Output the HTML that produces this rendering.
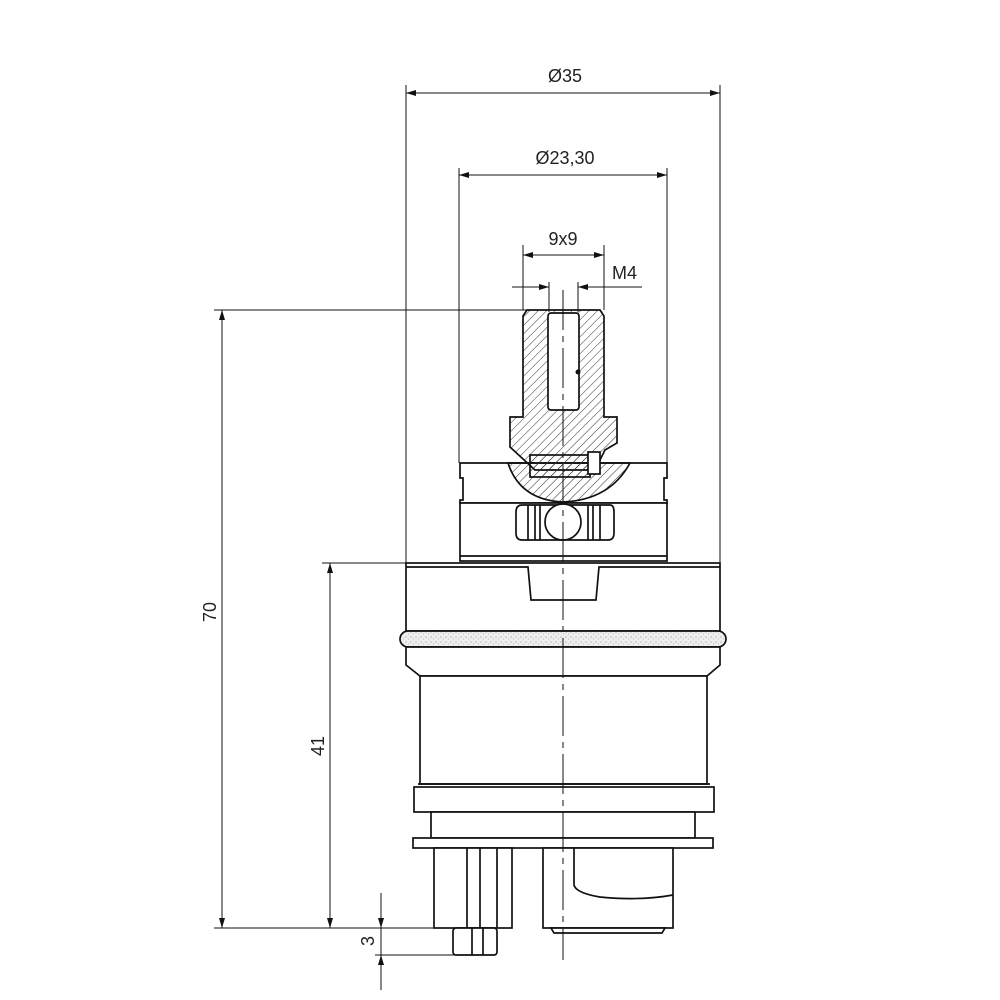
<!DOCTYPE html><html><head><style>body{margin:0;background:#fff}svg{display:block}text{font-family:"Liberation Sans",sans-serif;font-size:18px;fill:#222}</style></head><body>
<svg width="1000" height="1000" viewBox="0 0 1000 1000" xmlns="http://www.w3.org/2000/svg">
<defs>
<marker id="a" viewBox="0 0 10 6" refX="10" refY="3" markerWidth="16" markerHeight="6" markerUnits="userSpaceOnUse" orient="auto-start-reverse"><path d="M0,0L10,3L0,6z" fill="#111"/></marker>
<pattern id="h" width="6" height="6" patternUnits="userSpaceOnUse" patternTransform="rotate(45)"><line x1="0" y1="0" x2="0" y2="6" stroke="#333" stroke-width="1"/></pattern>
<pattern id="d" width="5" height="5" patternUnits="userSpaceOnUse"><rect width="5" height="5" fill="#eee"/><circle cx="1" cy="2" r="0.6" fill="#999"/><circle cx="3.5" cy="4" r="0.5" fill="#aaa"/></pattern>
</defs>
<g stroke="#111" stroke-width="1" fill="none">
<line x1="406" y1="85" x2="406" y2="563"/><line x1="720" y1="85" x2="720" y2="563"/>
<line x1="459" y1="168" x2="459" y2="463"/><line x1="667" y1="168" x2="667" y2="463"/>
<line x1="523" y1="245" x2="523" y2="310"/><line x1="604" y1="245" x2="604" y2="310"/>
<line x1="549" y1="282" x2="549" y2="312"/><line x1="578" y1="282" x2="578" y2="312"/>
<line x1="214" y1="310" x2="530" y2="310"/>
<line x1="214" y1="928" x2="434" y2="928"/>
<line x1="322" y1="563" x2="406" y2="563"/>
<line x1="375" y1="955" x2="455" y2="955"/>
<line x1="406" y1="93" x2="720" y2="93" marker-start="url(#a)" marker-end="url(#a)"/>
<line x1="459" y1="175" x2="667" y2="175" marker-start="url(#a)" marker-end="url(#a)"/>
<line x1="523" y1="255" x2="604" y2="255" marker-start="url(#a)" marker-end="url(#a)"/>
<line x1="512" y1="287" x2="549" y2="287" marker-end="url(#a)"/>
<line x1="642" y1="287" x2="578" y2="287" marker-end="url(#a)"/>
<line x1="222" y1="310" x2="222" y2="928" marker-start="url(#a)" marker-end="url(#a)"/>
<line x1="330" y1="563" x2="330" y2="928" marker-start="url(#a)" marker-end="url(#a)"/>
<line x1="381" y1="893" x2="381" y2="928" marker-end="url(#a)"/>
<line x1="381" y1="990" x2="381" y2="955" marker-end="url(#a)"/>
<line x1="381" y1="928" x2="381" y2="955"/>
</g>
<text x="565" y="82" text-anchor="middle">Ø35</text>
<text x="565" y="164" text-anchor="middle">Ø23,30</text>
<text x="563" y="245" text-anchor="middle">9x9</text>
<text x="612" y="279">M4</text>
<text transform="translate(216,612) rotate(-90)" text-anchor="middle">70</text>
<text transform="translate(324,746) rotate(-90)" text-anchor="middle">41</text>
<text transform="translate(374,941) rotate(-90)" text-anchor="middle">3</text>
<g stroke="#111" stroke-width="1.7" fill="#fff">
<path d="M460,463 L667,463 L667,478 L664,478 L664,500 L667,500 L667,503 L460,503 L460,500 L463,500 L463,478 L460,478Z"/>
<rect x="460" y="503" width="207" height="58"/>
<line x1="460" y1="556" x2="667" y2="556"/>
<path d="M522,505 L610,505 Q614,505 614,512 L614,533 Q614,540 608,540 L522,540 Q516,540 516,533 L516,512 Q516,505 522,505Z"/>
<line x1="528" y1="505" x2="528" y2="540"/><line x1="535" y1="505" x2="535" y2="540"/><line x1="540" y1="505" x2="540" y2="540"/>
<line x1="588" y1="505" x2="588" y2="540"/><line x1="593" y1="505" x2="593" y2="540"/><line x1="600" y1="505" x2="600" y2="540"/>
<circle cx="563" cy="522" r="18"/>
<path d="M508,463 Q520,500 563,502 Q610,500 630,463 Z" fill="url(#h)"/>
<path d="M527,310 L600,310 L604,316 L604,417 L617,417 L617,443 L605,450 L595,470 L535,470 L510,447 L510,417 L523,417 L523,316Z" fill="url(#h)"/>
<rect x="548" y="313" width="31" height="97" rx="3" fill="#fff"/>
<rect x="530" y="455" width="60" height="22" fill="url(#h)"/>
<rect x="588" y="452" width="12" height="22" fill="#fff"/>
<rect x="406" y="563" width="314" height="68"/>
<path d="M406,567 L528,567 L531,600 L596,600 L599,567 L720,567" fill="none"/>
<rect x="400" y="631" width="326" height="16" rx="8" fill="url(#d)"/>
<path d="M406,647 L720,647 L720,665 L707,676 L420,676 L406,665Z"/>
<rect x="420" y="676" width="287" height="108"/>
<rect x="414" y="787" width="300" height="25"/>
<line x1="418" y1="784" x2="710" y2="784"/>
<rect x="431" y="812" width="264" height="26"/>
<rect x="413" y="838" width="300" height="10"/>
<rect x="434" y="848" width="78" height="80"/>
<line x1="467" y1="848" x2="467" y2="928"/><line x1="480" y1="848" x2="480" y2="928"/><line x1="497" y1="848" x2="497" y2="928"/>
<rect x="453" y="928" width="44" height="27" rx="3"/>
<line x1="472" y1="928" x2="472" y2="955"/><line x1="483" y1="928" x2="483" y2="955"/>
<rect x="543" y="848" width="130" height="80"/>
<path d="M574,848 L574,885 Q576,893 600,897 Q640,901 673,895" fill="none"/>
<path d="M551,928 L665,928 L662,933 L554,933Z"/>
</g>
<line x1="563" y1="290" x2="563" y2="960" stroke="#111" stroke-width="1" stroke-dasharray="40,6,6,6"/>
<circle cx="578" cy="372" r="2.5" fill="#111"/>
</svg>
</body></html>
